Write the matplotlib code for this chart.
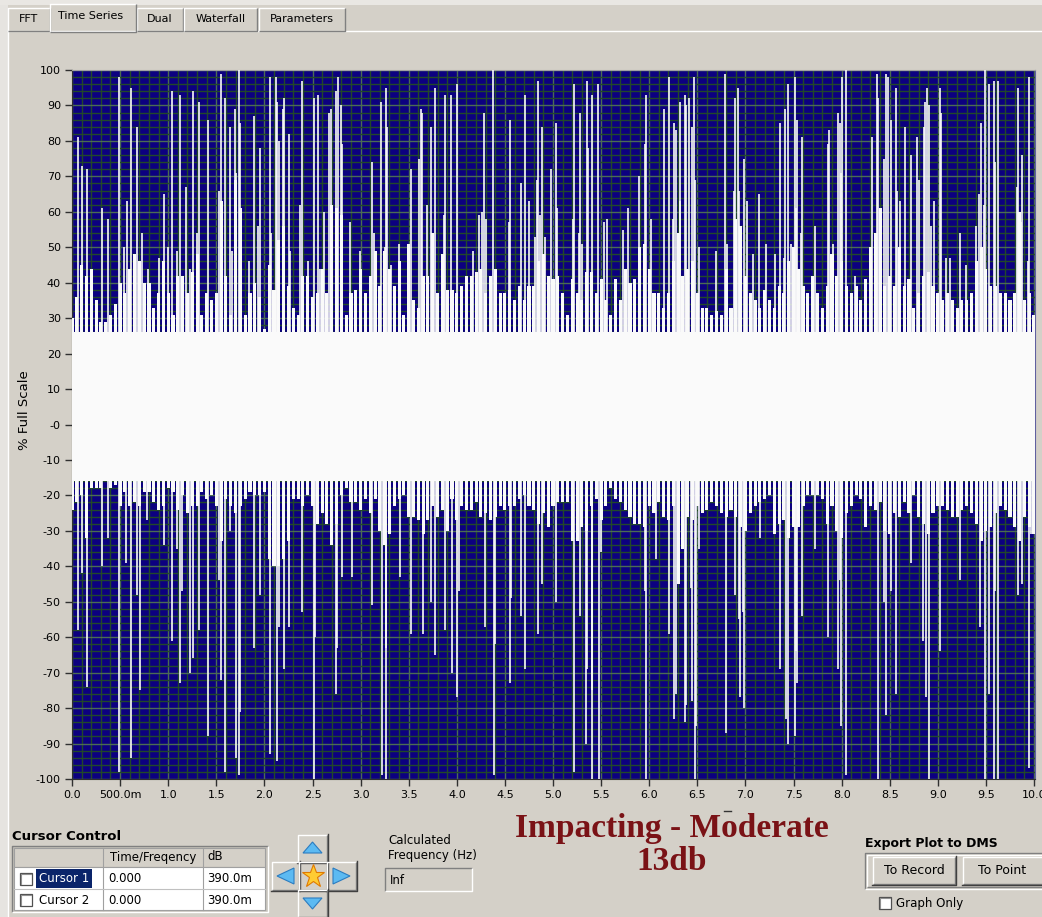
import numpy as np
import matplotlib.pyplot as plt
from matplotlib.patches import Rectangle, Polygon
from matplotlib.ticker import FixedLocator, FixedFormatter, MultipleLocator

# ---------------- time series data ----------------
# band edges (% full scale), one value every 50 ms from 0 to 10 s
top_edge = [
    30, 36, 45, 42, 44, 35, 29, 29, 31, 34, 40, 37, 44, 48, 46, 40, 40, 33, 37, 46,
    37, 31, 42, 42, 37, 43, 48, 31, 37, 35, 37, 63, 42, 31, 69, 61, 31, 37,
    40, 36, 27, 45, 38, 52, 56, 39, 33, 31, 42, 42, 36, 37, 44, 37, 62, 61, 59, 31,
    37, 38, 44, 37, 42, 49, 39, 49, 44, 39, 46, 31, 51, 35, 33, 42, 42, 54, 37,
    48, 38, 38, 37, 39, 42, 42, 43, 44, 37, 42, 44, 37, 37, 38, 35, 39, 35, 39, 39,
    46, 48, 42, 41, 42, 37, 31, 41, 37, 35, 43, 43, 37, 41, 35, 31, 41, 35, 44,
    40, 41, 50, 51, 44, 37, 37, 33, 37, 46, 54, 42, 44, 46, 37, 33, 33, 31, 32, 31,
    44, 33, 58, 56, 42, 37, 35, 33, 38, 35, 33, 39, 37, 46, 50, 44, 39, 37, 42, 37,
    33, 39, 48, 42, 46, 39, 37, 39, 35, 41, 50, 54, 61, 39, 42, 39, 50, 39, 41, 33,
    37, 42, 43, 39, 37, 35, 37, 35, 33, 35, 35, 37, 46, 50, 44, 39, 39, 37, 37, 35,
    37, 60, 35, 37, 31,
]
bottom_edge = [
    -24, -22, -20, -32, -18, -18, -18, -16, -18, -17, -23, -19, -23, -22, -23, -19,
    -19, -22, -24, -23, -18, -19, -24, -20, -25, -23, -23, -19, -21, -20, -23, -33,
    -21, -23, -25, -23, -21, -19,
    -20, -20, -19, -38, -40, -40, -38, -33, -21, -21, -23, -20, -23, -28, -25, -28,
    -34, -28, -20, -18, -22, -22, -24, -21, -25, -21, -30, -34, -31, -23, -21, -20,
    -26, -26, -27, -31, -27, -23, -26,
    -24, -30, -21, -27, -23, -24, -24, -22, -26, -25, -27, -26, -23, -24, -23, -23,
    -21, -20, -23, -24, -28, -25, -29, -23, -22, -22, -22, -33, -33, -29, -30, -23,
    -21, -27, -23, -18, -21, -22, -24,
    -26, -28, -28, -29, -23, -25, -22, -26, -27, -23, -45, -35, -26, -27, -23, -25,
    -24, -22, -23, -25, -26, -24, -26, -29, -30, -25, -23, -22, -21, -20, -31, -28,
    -27, -32, -29, -29, -23, -20, -20, -20,
    -21, -28, -23, -30, -32, -25, -23, -20, -21, -29, -23, -24, -22, -30, -31, -25,
    -26, -22, -25, -20, -26, -28, -31, -25, -23, -23, -24, -26, -26, -24, -23, -25,
    -28, -33, -30, -29, -25, -23, -24, -26, -29, -33, -26, -29, -31,
]
solid_top = 26
solid_bottom = -16

# isolated excursions: time (s) and peak value (% full scale)
up_t = [0.063, 0.108, 0.16, 0.316, 0.378, 0.489, 0.538, 0.572, 0.617, 0.68, 0.731, 0.79,
        0.905, 0.96, 1.002, 1.043, 1.092, 1.126, 1.189, 1.227, 1.258, 1.30, 1.32, 1.418,
        1.525, 1.549, 1.587, 1.646, 1.664, 1.695, 1.709, 1.733, 1.743, 1.84, 1.889, 1.937,
        1.951, 2.062, 2.072, 2.117, 2.131, 2.152, 2.194, 2.204, 2.256, 2.263, 2.374, 2.388,
        2.453, 2.516, 2.557, 2.582, 2.616, 2.668, 2.689, 2.741, 2.762, 2.80, 2.81, 2.887,
        2.99, 3.122, 3.136, 3.209, 3.25, 3.268, 3.278, 3.32, 3.40, 3.521, 3.607, 3.631,
        3.642, 3.694, 3.729, 3.777, 3.867, 3.874, 3.943, 4.002, 4.168, 4.231, 4.265, 4.283,
        4.307, 4.376, 4.539, 4.55, 4.671, 4.713, 4.747, 4.81, 4.837, 4.844, 4.868, 4.89,
        4.92, 4.976, 5.035, 5.045, 5.208, 5.218, 5.27, 5.281, 5.305, 5.354, 5.368, 5.402,
        5.471, 5.534, 5.561, 5.728, 5.78, 5.89, 5.96, 5.97, 6.015, 6.15, 6.202, 6.247,
        6.258, 6.282, 6.317, 6.324, 6.369, 6.379, 6.414, 6.441, 6.466, 6.476, 6.514, 6.691,
        6.791, 6.812, 6.878, 6.888, 6.923, 6.933, 6.986, 7.02, 7.079, 7.141, 7.211, 7.304,
        7.363, 7.398, 7.415, 7.443, 7.477, 7.519, 7.53, 7.54, 7.581, 7.588, 7.727, 7.859,
        7.866, 7.91, 7.963, 7.98, 7.99, 8.004, 8.049, 8.136, 8.316, 8.368, 8.378, 8.396,
        8.437, 8.465, 8.48, 8.51, 8.562, 8.576, 8.61, 8.656, 8.725, 8.787, 8.801, 8.853,
        8.867, 8.888, 8.908, 8.926, 8.96, 9.019, 9.03, 9.082, 9.123, 9.227, 9.297, 9.40,
        9.428, 9.445, 9.48, 9.487, 9.529, 9.581, 9.591, 9.626, 9.827, 9.834, 9.868, 9.875,
        9.937, 9.948]
up_v = [81, 73, 72, 61, 58, 98, 50, 63, 95, 84, 54, 44,
        47, 65, 50, 94, 49, 93, 67, 44, 94, 54, 91, 86,
        66, 99, 92, 84, 49, 89, 71, 100, 85, 46, 87, 56,
        78, 98, 54, 98, 91, 80, 89, 92, 82, 49, 62, 97,
        46, 92, 93, 44, 60, 88, 89, 94, 98, 90, 79, 57,
        49, 74, 54, 91, 50, 95, 84, 45, 51, 72, 75, 89,
        88, 62, 84, 95, 59, 93, 93, 96, 49, 59, 60, 88,
        58, 100, 57, 86, 68, 93, 63, 53, 69, 97, 59, 84,
        53, 72, 85, 61, 58, 96, 54, 88, 51, 97, 78, 93,
        96, 57, 58, 55, 61, 70, 79, 93, 58, 89, 98, 58,
        85, 83, 63, 91, 93, 90, 92, 84, 98, 69, 50, 49,
        99, 51, 66, 92, 95, 66, 75, 63, 48, 65, 51, 48,
        85, 47, 89, 96, 51, 98, 61, 86, 54, 81, 56, 79,
        83, 51, 88, 85, 71, 98, 100, 42, 81, 99, 92, 61,
        75, 99, 98, 86, 95, 66, 63, 84, 76, 81, 69, 84,
        91, 95, 90, 56, 63, 95, 88, 47, 47, 54, 45, 56,
        65, 85, 62, 100, 96, 97, 74, 97, 67, 95, 57, 76,
        46, 98]

dn_t = [0.063, 0.108, 0.16, 0.316, 0.378, 0.489, 0.565, 0.617, 0.68, 0.711, 0.78, 0.953,
        1.043, 1.092, 1.126, 1.147, 1.223, 1.258, 1.32, 1.418, 1.528, 1.549, 1.59, 1.646,
        1.702, 1.736, 1.743, 1.889, 1.951, 2.062, 2.131, 2.152, 2.204, 2.256, 2.391, 2.516,
        2.53, 2.741, 2.758, 2.81, 2.914, 3.122, 3.226, 3.261, 3.268, 3.406, 3.527, 3.649,
        3.735, 3.777, 3.878, 3.95, 4.002, 4.02, 4.29, 4.383, 4.394, 4.55, 4.56, 4.671,
        4.713, 4.844, 4.89, 5.035, 5.218, 5.277, 5.347, 5.357, 5.40, 5.409, 5.478, 5.495,
        5.96, 5.97, 6.067, 6.202, 6.258, 6.282, 6.369, 6.386, 6.431, 6.441, 6.473, 6.483,
        6.518, 6.795, 6.888, 6.933, 6.94, 6.975, 6.986, 7.148, 7.363, 7.419, 7.446, 7.519,
        7.53, 7.54, 7.592, 7.727, 7.859, 7.963, 7.98, 7.997, 8.049, 8.378, 8.437, 8.465,
        8.51, 8.562, 8.725, 8.846, 8.881, 8.908, 9.019, 9.227, 9.442, 9.487, 9.529, 9.581,
        9.591, 9.626, 9.834, 9.875, 9.948, 9.965]
dn_v = [-58, -42, -74, -40, -32, -98, -39, -94, -48, -75, -27, -34,
        -61, -35, -73, -47, -70, -66, -58, -88, -44, -72, -98, -30,
        -94, -99, -81, -63, -48, -93, -95, -57, -69, -57, -53, -100,
        -60, -76, -63, -43, -43, -51, -99, -63, -100, -43, -59, -59,
        -50, -65, -58, -70, -77, -47, -57, -99, -62, -73, -49, -54,
        -69, -59, -45, -50, -98, -54, -90, -69, -100, -75, -100, -36,
        -47, -100, -38, -59, -83, -76, -84, -79, -46, -78, -100, -85,
        -35, -87, -48, -55, -77, -53, -80, -32, -69, -83, -90, -88,
        -64, -73, -54, -35, -60, -69, -44, -85, -99, -100, -50, -82,
        -47, -76, -39, -61, -77, -100, -64, -44, -57, -100, -76, -100,
        -47, -100, -48, -45, -97, -31]

xticks = [0.0, 0.5, 1.0, 1.5, 2.0, 2.5, 3.0, 3.5, 4.0, 4.5, 5.0,
          5.5, 6.0, 6.5, 7.0, 7.5, 8.0, 8.5, 9.0, 9.5, 10.0]
xtick_labels = ['0.0', '500.0m', '1.0', '1.5', '2.0', '2.5', '3.0', '3.5', '4.0', '4.5', '5.0',
                '5.5', '6.0', '6.5', '7.0', '7.5', '8.0', '8.5', '9.0', '9.5', '10.0']
yticks = [-100, -90, -80, -70, -60, -50, -40, -30, -20, -10, 0,
          10, 20, 30, 40, 50, 60, 70, 80, 90, 100]
ytick_labels = ['-100', '-90', '-80', '-70', '-60', '-50', '-40', '-30', '-20', '-10', '-0',
                '10', '20', '30', '40', '50', '60', '70', '80', '90', '100']

# ---------------- colours ----------------
PANEL = '#D4D0C8'
NAVY = '#0C0080'
TRACE = '#FAFAFA'
GRID_MINOR = '#22482A'
GRID_MAJOR = '#4C6C54'
DARKRED = '#7A1216'

W, H = 1042, 917
fig = plt.figure(figsize=(W / 100, H / 100), dpi=100)
fig.patch.set_facecolor(PANEL)

# pixel-space layer for the window chrome
ui = fig.add_axes([0, 0, 1, 1], zorder=0)
ui.set_xlim(0, W)
ui.set_ylim(H, 0)
ui.axis('off')


def bevel(x0, y0, x1, y1, raised=True, face=PANEL, outer=False):
    ui.add_patch(Rectangle((x0, y0), x1 - x0, y1 - y0, facecolor=face, edgecolor='none'))
    light, dark = ('white', '#808080') if raised else ('#808080', 'white')
    ui.plot([x0, x0, x1], [y1, y0, y0], color=light, lw=1, solid_capstyle='butt')
    ui.plot([x0, x1, x1], [y1, y1, y0], color=dark, lw=1, solid_capstyle='butt')
    if outer:
        ui.plot([x0 - 1, x1 + 1, x1 + 1], [y1 + 1, y1 + 1, y0 - 1], color='#404040', lw=1)


def checkbox(x0, y0, size=12):
    ui.add_patch(Rectangle((x0, y0), size, size, facecolor='white',
                           edgecolor='#505050', lw=0.9))
    ui.plot([x0 + 1, x0 + 1, x0 + size - 1], [y0 + size - 1, y0 + 1, y0 + 1],
            color='#909090', lw=0.8)


def label(x, y, s, **kw):
    kw.setdefault('fontsize', 8)
    kw.setdefault('va', 'center')
    kw.setdefault('color', 'black')
    return ui.text(x, y, s, **kw)


# outer edges of the window
ui.add_patch(Rectangle((0, 0), 8, H, facecolor='#E6E4E0', edgecolor='none'))
ui.add_patch(Rectangle((0, 0), W, 5, facecolor='#E9E7E3', edgecolor='none'))
ui.plot([8, W], [31, 31], color='white', lw=1)
ui.plot([8, 8], [31, H], color='white', lw=1)

# tabs
tabs = [('FFT', 8, 50), ('Dual', 137, 183), ('Waterfall', 184, 257), ('Parameters', 259, 345)]
for name, x0, x1 in tabs:
    bevel(x0, 8, x1, 31)
    label((x0 + x1) / 2, 19, name, ha='center')
bevel(50, 4, 136, 32)
ui.add_patch(Rectangle((51, 30), 84, 4, facecolor=PANEL, edgecolor='none'))
label(91, 16, 'Time Series', ha='center')

# cursor control table
label(12, 836, 'Cursor Control', fontweight='bold', fontsize=9.5)
bevel(12, 846, 268, 912, raised=False, face='#C8C4BC')
ui.add_patch(Rectangle((14, 848), 251, 19, facecolor=PANEL, edgecolor='#A0A0A0', lw=0.8))
ui.add_patch(Rectangle((14, 867), 251, 43, facecolor='white', edgecolor='#A0A0A0', lw=0.8))
for xc in (103, 203):
    ui.plot([xc, xc], [848, 910], color='#A0A0A0', lw=0.8)
ui.plot([14, 265], [889, 889], color='#C0C0C0', lw=0.8)
hdr_clip = Rectangle((103, 848), 99, 19, transform=ui.transData)
t_hdr = label(110, 857, 'Time/Freqency', fontsize=8.5)
t_hdr.set_clip_path(hdr_clip)
label(207, 857, 'dB', fontsize=8.5)
for row_y in (879, 900):
    checkbox(20, row_y - 6)
    label(108, row_y, '0.000', fontsize=8.5)
    label(207, row_y, '390.0m', fontsize=8.5)
ui.add_patch(Rectangle((36, 869), 56, 19, facecolor='#0A246A', edgecolor='none'))
label(39, 879, 'Cursor 1', fontsize=8.5, color='white')
label(39, 900, 'Cursor 2', fontsize=8.5)

# cursor arrow pad
bevel(298, 835, 327, 862, outer=True)
bevel(272, 862, 299, 890, outer=True)
bevel(299, 862, 327, 890, outer=True)
bevel(327, 862, 356, 890, outer=True)
bevel(298, 890, 327, 917, outer=True)
arrow_kw = dict(facecolor='#5CBAF2', edgecolor='#2C7CC0', lw=0.8)
ui.add_patch(Polygon([(303, 853), (322, 853), (312.5, 842)], **arrow_kw))
ui.add_patch(Polygon([(303, 898), (322, 898), (312.5, 909)], **arrow_kw))
ui.add_patch(Polygon([(277, 876), (294, 868), (294, 884)], **arrow_kw))
ui.add_patch(Polygon([(350, 876), (333, 868), (333, 884)], **arrow_kw))
ui.plot(313, 876, marker='*', ms=17, mfc='#FFCC33', mec='#E07A00', mew=0.8)

# calculated frequency readout
label(388, 840, 'Calculated', fontsize=8.5)
label(388, 856, 'Frequency (Hz)', fontsize=8.5)
bevel(385, 868, 472, 891, raised=False, face=PANEL)
label(390, 880, 'Inf', fontsize=8.5)

# status text
ui.text(672, 828, 'Impacting - Moderate', ha='center', va='center', color=DARKRED,
        fontsize=24, fontweight='bold', family='Liberation Serif')
ui.text(672, 862, '13db', ha='center', va='center', color=DARKRED,
        fontsize=24, fontweight='bold', family='Liberation Serif')
ui.plot([724, 731], [811, 811], color='#333333', lw=1)

# export group
label(865, 843, 'Export Plot to DMS', fontweight='bold', fontsize=9)
bevel(865, 853, 1045, 889, raised=False)
bevel(867, 855, 1045, 887, raised=True)
bevel(873, 857, 955, 884, outer=True)
bevel(963, 857, 1045, 884, outer=True)
label(914, 870, 'To Record', ha='center', fontsize=9)
label(1002, 870, 'To Point', ha='center', fontsize=9)
checkbox(879, 897)
label(896, 903, 'Graph Only', fontsize=8.5)

# y axis title
label(25, 410, '% Full Scale', rotation=90, ha='center', fontsize=9.5)

# ---------------- waveform graph ----------------
ax = fig.add_axes([72 / W, 1 - 779 / H, (1035 - 72) / W, (779 - 70) / H], zorder=1)
ax.set_facecolor(NAVY)
ax.set_xlim(0, 10.01)
ax.set_ylim(-100, 100)

t_top = np.arange(len(top_edge)) * 0.05
t_bot = np.arange(len(bottom_edge)) * 0.05
ax.fill_between([0, 10.01], solid_bottom, solid_top, color=TRACE, lw=0, zorder=3)
ax.bar(t_top, np.array(top_edge) - solid_top, bottom=solid_top, width=0.032,
       color=TRACE, lw=0, zorder=3)
ax.bar(t_bot, np.array(bottom_edge) - solid_bottom, bottom=solid_bottom, width=0.032,
       color=TRACE, lw=0, zorder=3)
ax.vlines(up_t, solid_top - 2, up_v, colors=TRACE, lw=1.2, zorder=4)
ax.vlines(dn_t, solid_bottom + 2, dn_v, colors=TRACE, lw=1.2, zorder=4)

ax.xaxis.set_major_locator(FixedLocator(xticks))
ax.xaxis.set_major_formatter(FixedFormatter(xtick_labels))
ax.yaxis.set_major_locator(FixedLocator(yticks))
ax.yaxis.set_major_formatter(FixedFormatter(ytick_labels))
ax.xaxis.set_minor_locator(MultipleLocator(0.1))
ax.yaxis.set_minor_locator(MultipleLocator(2))
ax.set_axisbelow(True)
ax.grid(which='minor', color=GRID_MINOR, lw=1.0, zorder=1)
ax.grid(which='major', color=GRID_MAJOR, lw=1.0, zorder=2)
ax.tick_params(which='minor', length=0)
ax.tick_params(which='major', direction='out', length=5, width=1, color='#303030',
               labelsize=8, pad=3)
for side in ('left', 'bottom'):
    ax.spines[side].set_color('#303030')
ax.spines['top'].set_color('#A0A0A0')
ax.spines['right'].set_color('#6060A0')

fig.savefig('out.png', dpi=100, facecolor=PANEL)
